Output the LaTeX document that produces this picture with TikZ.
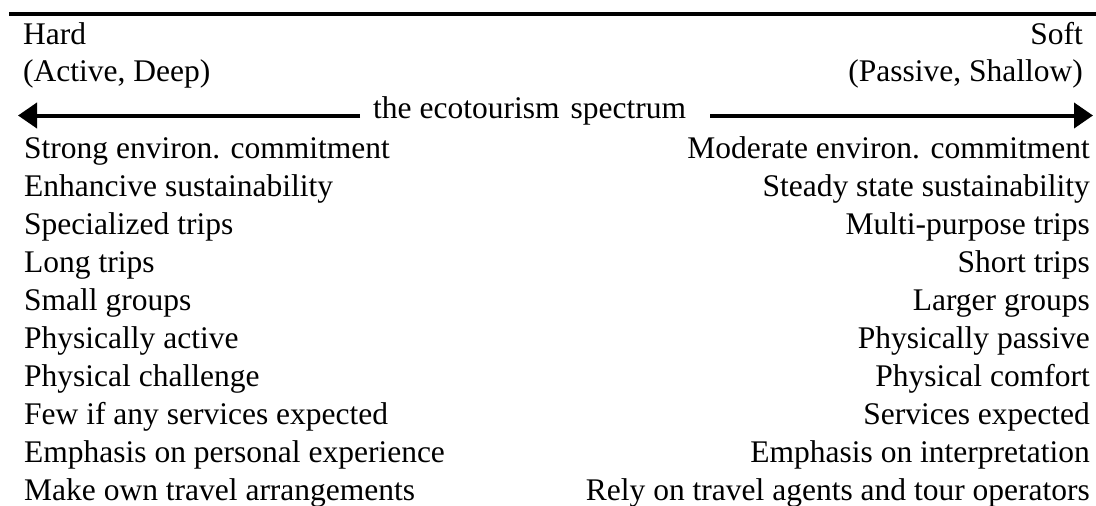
\documentclass[tikz,border=0pt]{standalone}
\usepackage{fontspec}
\setmainfont{Liberation Serif}
\usetikzlibrary{arrows.meta}
\begin{document}
\begin{tikzpicture}[x=1pt,y=-1pt,
  txt/.style={inner sep=0pt,font=\fontsize{31.5}{38}\selectfont},
  lft/.style={txt,anchor=base west},
  rgt/.style={txt,anchor=base east},
  spec/.style={line width=4pt,-{Triangle[length=19pt,width=25pt]}}]
\useasboundingbox (0,0) rectangle (1096,506);
% top rule
\coordinate (ruleL) at (9,13.8);
\coordinate (ruleR) at (1096,13.8);
\draw[line width=4.3pt] (ruleL) -- (ruleR);
% headers
\node[lft] (hard) at (23,45) {Hard};
\node[lft] (hardsub) at (23,81) {(Active, Deep)};
\node[rgt] (soft) at (1083,45) {Soft};
\node[rgt] (softsub) at (1083,81) {(Passive, Shallow)};
% spectrum arrow
\node[lft] (spectxt) at (373,118) {the ecotourism\hspace{0.35em}spectrum};
\coordinate (specL) at (360,115.5);
\coordinate (specR) at (710,115.5);
\coordinate (tipL) at (18,115.5);
\coordinate (tipR) at (1093,115.5);
\draw[spec] (specL) -- (tipL);
\draw[spec] (specR) -- (tipR);
% left column
\foreach \t [count=\i from 0] in {Strong environ. commitment,Enhancive sustainability,Specialized trips,Long trips,Small groups,Physically active,Physical challenge,Few if any services expected,Emphasis on personal experience,Make own travel arrangements}
  \node[lft] (hard\i) at (24,158+38*\i) {\t};
% right column
\foreach \t [count=\i from 0] in {Moderate environ. commitment,Steady state sustainability,Multi-purpose trips,Short trips,Larger groups,Physically passive,Physical comfort,Services expected,Emphasis on interpretation,Rely on travel agents and tour operators}
  \node[rgt] (soft\i) at (1090,158+38*\i) {\t};
\end{tikzpicture}
\end{document}
